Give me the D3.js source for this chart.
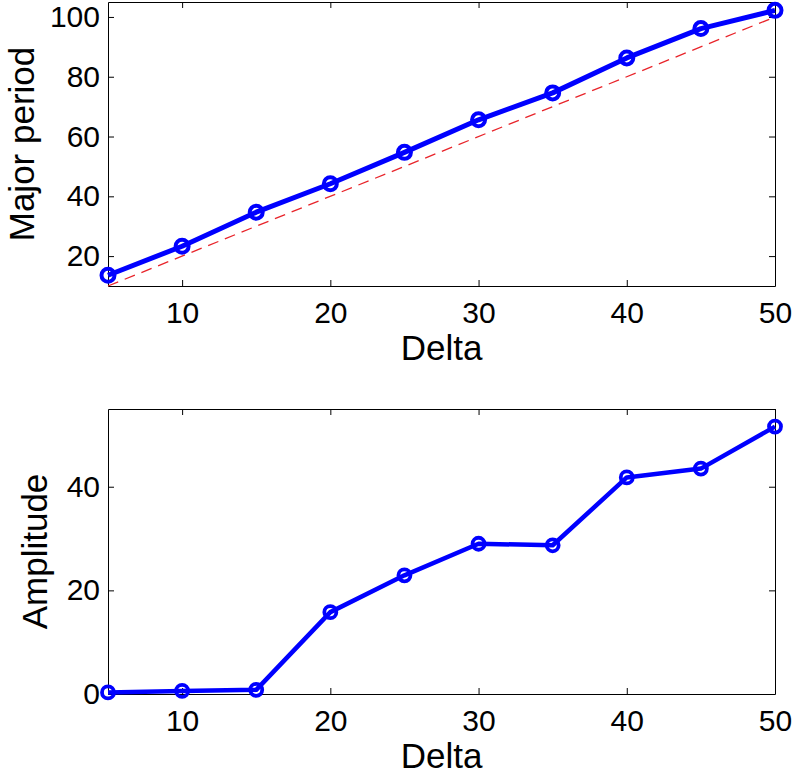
<!DOCTYPE html>
<html lang="en">
<head>
    <meta charset="UTF-8">
    <title>Major period and amplitude vs Delta</title>
    <script src="https://d3js.org/d3.v7.min.js"></script>
    <style>
        body {
            margin: 0;
            background: #ffffff;
            font-family: "Liberation Sans", Arial, Helvetica, sans-serif;
        }
        .axis path, .axis line {
            stroke: #000;
            stroke-width: 1;
        }
        .axis text {
            font-family: "Liberation Sans", Arial, Helvetica, sans-serif;
            font-size: 30px;
            fill: #000;
        }
        .label {
            font-size: 35px;
            fill: #000;
        }
    </style>
</head>
<body>
    <div id="chart"></div>

    <script>
        // Data
        const delta = [5, 10, 15, 20, 25, 30, 35, 40, 45, 50];
        const majorPeriod = [13.6, 23.3, 34.7, 44.2, 54.7, 65.6, 74.6, 86.3, 96.1, 102.2];
        const amplitude = [0.3, 0.6, 0.8, 15.8, 22.9, 29.0, 28.7, 41.8, 43.5, 51.6];

        // dashed reference line (period = 2 * delta)
        const refDelta = [5, 50];
        const refPeriod = [10, 100];

        const xTicks = [10, 20, 30, 40, 50];
        const periodTicks = [20, 40, 60, 80, 100];
        const amplitudeTicks = [0, 20, 40];

        const width = 793, height = 780;

        const svg = d3.select("#chart")
            .append("svg")
            .attr("width", width)
            .attr("height", height);

        // draws one panel with a box and inward ticks, MATLAB style
        function drawPanel(opts) {
            const { top, bottom, yDomain, yTicks, yLabel, yLabelX, xs, ys, lineWidth, r, markerWidth } = opts;
            const left = 108, right = 775;

            const x = d3.scaleLinear().domain([5, 50]).range([left, right]);
            const y = d3.scaleLinear().domain(yDomain).range([bottom, top]);

            const g = svg.append("g");

            // box + mirrored ticks
            g.append("g")
                .attr("class", "axis")
                .attr("transform", `translate(0,${top})`)
                .call(d3.axisTop(x).tickValues(xTicks).tickSize(-6).tickSizeOuter(0).tickFormat(""));
            g.append("g")
                .attr("class", "axis")
                .attr("transform", `translate(${right},0)`)
                .call(d3.axisRight(y).tickValues(yTicks).tickSize(-6).tickSizeOuter(0).tickFormat(""));

            g.append("g")
                .attr("class", "axis")
                .attr("transform", `translate(0,${bottom})`)
                .call(d3.axisBottom(x).tickValues(xTicks).tickSize(-6).tickSizeOuter(0).tickPadding(16));
            g.append("g")
                .attr("class", "axis")
                .attr("transform", `translate(${left},0)`)
                .call(d3.axisLeft(y).tickValues(yTicks).tickSize(-6).tickSizeOuter(0).tickPadding(8));

            // x label
            g.append("text")
                .attr("class", "label")
                .attr("x", (left + right) / 2)
                .attr("y", bottom + 74)
                .attr("text-anchor", "middle")
                .text("Delta");

            // y label
            g.append("text")
                .attr("class", "label")
                .attr("transform", `translate(${yLabelX},${(top + bottom) / 2}) rotate(-90)`)
                .attr("text-anchor", "middle")
                .text(yLabel);

            if (opts.refX) {
                g.append("path")
                    .datum(d3.zip(opts.refX, opts.refY))
                    .attr("fill", "none")
                    .attr("stroke", "#e8242a")
                    .attr("stroke-width", 1.3)
                    .attr("stroke-dasharray", "11,7")
                    .attr("d", d3.line().x(d => x(d[0])).y(d => y(d[1])));
            }

            const pts = d3.zip(xs, ys);

            g.append("path")
                .datum(pts)
                .attr("fill", "none")
                .attr("stroke", "#0000ff")
                .attr("stroke-width", lineWidth)
                .attr("stroke-linejoin", "round")
                .attr("d", d3.line().x(d => x(d[0])).y(d => y(d[1])));

            g.selectAll(".marker")
                .data(pts)
                .enter()
                .append("circle")
                .attr("class", "marker")
                .attr("cx", d => x(d[0]))
                .attr("cy", d => y(d[1]))
                .attr("r", r)
                .attr("fill", "none")
                .attr("stroke", "#0000ff")
                .attr("stroke-width", markerWidth);
        }

        drawPanel({
            top: 2, bottom: 286, yDomain: [10, 105], yTicks: periodTicks,
            yLabel: "Major period", yLabelX: 34,
            xs: delta, ys: majorPeriod,
            refX: refDelta, refY: refPeriod,
            lineWidth: 5, r: 6.5, markerWidth: 4
        });

        drawPanel({
            top: 409, bottom: 694, yDomain: [0, 55], yTicks: amplitudeTicks,
            yLabel: "Amplitude", yLabelX: 47,
            xs: delta, ys: amplitude,
            lineWidth: 4.5, r: 6, markerWidth: 3.8
        });
    </script>
</body>
</html>
